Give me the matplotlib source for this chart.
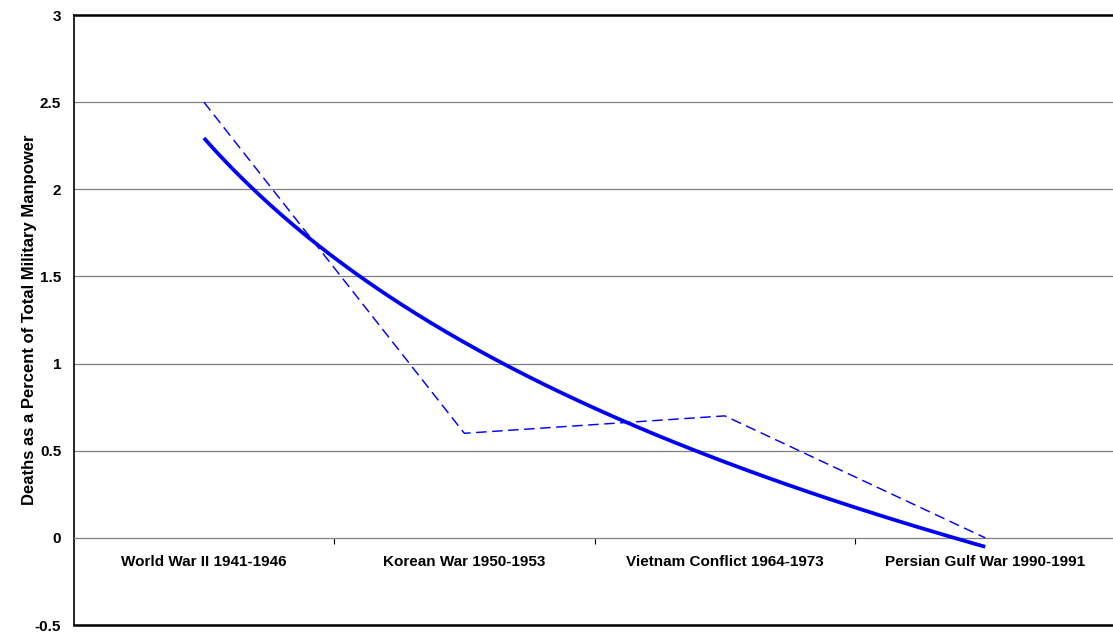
import matplotlib
matplotlib.use('Agg')
import matplotlib.pyplot as plt
import numpy as np

plt.rcParams['font.family'] = ['Liberation Sans', 'DejaVu Sans']

wars = ['World War II 1941-1946', 'Korean War 1950-1953',
        'Vietnam Conflict 1964-1973', 'Persian Gulf War 1990-1991']
death_pct = [2.5, 0.6, 0.7, 0.0]
y_ticks = [-0.5, 0, 0.5, 1, 1.5, 2, 2.5, 3]
y_tick_labels = ['-0.5', '0', '0.5', '1', '1.5', '2', '2.5', '3']


def main():
    fig = plt.figure(figsize=(11.13, 6.33), dpi=100)
    ax = fig.add_axes([0.0662, 0.0126, 0.936, 0.9637])

    x = np.arange(1, len(wars) + 1)

    # gridlines
    for v in y_ticks[2:-1]:
        ax.axhline(v, color='#808080', lw=0.9, zorder=1)

    # data series (dashed) and logarithmic trend line (solid)
    ax.plot(x, death_pct, color='#0000ff', lw=1.05, dashes=(7.2, 3.8), zorder=3)
    a, b = np.polyfit(np.log(x), death_pct, 1)
    xs = np.linspace(1, len(wars), 200)
    ax.plot(xs, a * np.log(xs) + b, color='#0000ff', lw=2.7,
            solid_capstyle='butt', zorder=4)

    ax.set_xlim(0.5, len(wars) + 0.5)
    ax.set_ylim(-0.5, 3)

    # category axis sits on y = 0
    ax.spines['bottom'].set_position(('data', 0))
    ax.spines['bottom'].set_color('#808080')
    ax.spines['bottom'].set_linewidth(0.9)
    ax.spines['right'].set_visible(False)
    ax.spines['top'].set_linewidth(1.8)
    ax.spines['left'].set_linewidth(1.2)
    ax.axhline(-0.5, color='black', lw=1.8, clip_on=False, zorder=5)

    ax.set_xticks(x)
    ax.set_xticklabels(wars, fontsize=11, fontweight='bold')
    ax.tick_params(axis='x', which='major', length=0, pad=12)
    ax.set_xticks(x[:-1] + 0.5, minor=True)
    ax.tick_params(axis='x', which='minor', length=4, direction='out',
                   color='black', width=0.8)

    ax.set_yticks(y_ticks)
    ax.set_yticklabels(y_tick_labels, fontsize=11, fontweight='bold')
    ax.tick_params(axis='y', length=0, pad=9)

    ax.set_ylabel('Deaths as a Percent of Total Military Manpower',
                  fontsize=12, fontweight='bold', labelpad=-1.5)

    fig.savefig('out.png', dpi=100)


if __name__ == '__main__':
    main()
